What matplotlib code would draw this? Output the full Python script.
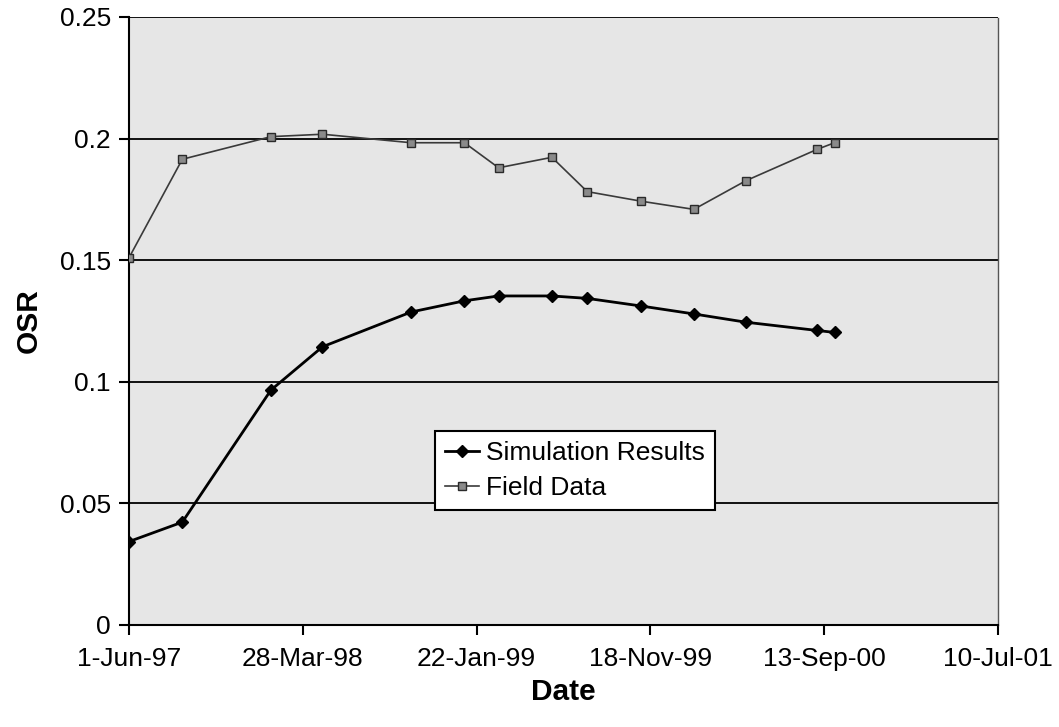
import matplotlib.pyplot as plt
import matplotlib.dates as mdates
import numpy as np
from datetime import date, timedelta

plt.rcParams['font.family'] = ['Liberation Sans', 'DejaVu Sans']

# sampling dates (same for both series)
fechas = [date(1997, 6, 1), date(1997, 9, 1), date(1998, 2, 1), date(1998, 5, 1),
          date(1998, 10, 1), date(1999, 1, 1), date(1999, 3, 1), date(1999, 6, 1),
          date(1999, 8, 1), date(1999, 11, 1), date(2000, 2, 1), date(2000, 5, 1),
          date(2000, 9, 1), date(2000, 10, 1)]

simulacion = [0.0343, 0.0423, 0.0966, 0.1144, 0.1287, 0.1333, 0.1353, 0.1353,
              0.1343, 0.1312, 0.1279, 0.1245, 0.1211, 0.1203]

campo = [0.151, 0.1915, 0.2008, 0.2018, 0.1983, 0.1983, 0.1880, 0.1923,
         0.1782, 0.1743, 0.1709, 0.1827, 0.1956, 0.1983]

inicio = date(1997, 6, 1)
fin = date(2001, 7, 10)
ticks_x = [inicio + timedelta(days=300 * i) for i in range(6)]

fig = plt.figure(figsize=(10.59, 7.27), dpi=100)
ax = fig.add_axes([129 / 1059, 1 - 625 / 727, (998 - 129) / 1059, (625 - 17) / 727])
ax.set_facecolor('#e6e6e6')

# horizontal grid
for yv in np.arange(0.05, 0.2501, 0.05):
    ax.axhline(yv, color='black', lw=1.3, zorder=1)

ax.plot(fechas, simulacion, color='black', lw=2, marker='D', markersize=6.5,
        markerfacecolor='black', markeredgecolor='black', zorder=4, label='Simulation Results')
ax.plot(fechas, campo, color='#3a3a3a', lw=1.2, marker='s', markersize=5.5,
        markerfacecolor='#8a8a8a', markeredgecolor='#2a2a2a', markeredgewidth=1,
        zorder=3, label='Field Data')

ax.set_xlim(mdates.date2num(inicio), mdates.date2num(fin))
ax.set_ylim(0, 0.25)
ax.set_xticks([mdates.date2num(d) for d in ticks_x])
ax.xaxis.set_major_formatter(plt.FuncFormatter(
    lambda v, p: "{}-{}".format(mdates.num2date(v).day, mdates.num2date(v).strftime('%b-%y'))))
ax.set_yticks(np.arange(0, 0.2501, 0.05))
ax.set_yticklabels(['0', '0.05', '0.1', '0.15', '0.2', '0.25'])

ax.tick_params(axis='both', direction='out', length=7, width=1.5, labelsize=19, color='black')
ax.tick_params(axis='x', pad=9)
ax.tick_params(axis='y', pad=6)

ax.spines['top'].set_visible(False)
ax.spines['right'].set_color('#555555')
ax.spines['right'].set_linewidth(1)
ax.spines['right'].set_linestyle((0, (1, 1)))
ax.spines['left'].set_linewidth(1.5)
ax.spines['bottom'].set_linewidth(1.5)

ax.set_xlabel('Date', fontsize=21.5, fontweight='bold', labelpad=5)
ax.set_ylabel('OSR', fontsize=21.5, fontweight='bold', labelpad=12)

leg = ax.legend(loc='upper left', bbox_to_anchor=((435 - 129) / 869, (625 - 431) / 608),
                fontsize=19, frameon=True, fancybox=False, framealpha=1,
                edgecolor='black', handlelength=1.3, handletextpad=0.25,
                borderpad=0.38, labelspacing=0.42, borderaxespad=0)
leg.get_frame().set_linewidth(1.5)

fig.savefig('out.png', dpi=100)
